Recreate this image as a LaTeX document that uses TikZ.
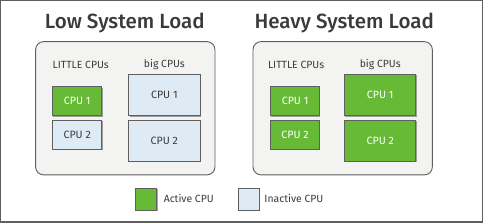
\documentclass[tikz,border=0pt]{standalone}
\usepackage{fontspec}
\setmainfont{Fira Sans}
\newfontfamily\medfont{Fira Sans Medium}
\usetikzlibrary{positioning,shadows}
\definecolor{actgreen}{HTML}{67BA35}
\definecolor{idleblue}{HTML}{DEEBF4}
\definecolor{panelgray}{HTML}{F3F3F2}
\definecolor{edgegray}{HTML}{5F5F5F}
\definecolor{txtgray}{HTML}{3A3A3A}
\tikzset{panel/.style={draw=edgegray,fill=panelgray,rounded corners=8pt,line width=0.9pt,
           minimum width=179pt,minimum height=133pt,inner sep=0pt},
         title/.style={font=\medfont\fontsize{20.5}{22}\selectfont,text=txtgray},
         grouplabel/.style={font=\fontsize{10.4}{12}\selectfont,text=txtgray},
         cpu/.style={draw=edgegray,line width=0.8pt,inner sep=0pt,
           font=\fontsize{10.6}{12}\selectfont,
           drop shadow={shadow xshift=0.8pt,shadow yshift=-0.8pt,opacity=0.35,fill=black}},
         active/.style={cpu,fill=actgreen,text=white},
         inactive/.style={cpu,fill=idleblue,text=txtgray},
         little/.style={minimum width=49pt,minimum height=29pt},
         big/.style={minimum width=71pt,minimum height=41pt},
         legendbox/.style={minimum width=21pt,minimum height=22pt}}
\begin{document}
\begin{tikzpicture}[x=1pt,y=-1pt]
  \draw[edgegray,line width=1.1pt,fill=white] (1,1) rectangle (482,222);
  % low load
  \node[title] (lowtitle) at (125,23) {Low System Load};
  \node[panel] (lowpanel) at (125.5,108.5) {};
  \node[grouplabel] (lowlittle) at (81,65) {LITTLE CPUs};
  \node[grouplabel] (lowbig) at (164.5,65) {big CPUs};
  \node[active,little] (lowl1) at (77.5,101.5) {CPU 1};
  \node[inactive,little] (lowl2) at (77.5,135) {CPU 2};
  \node[inactive,big] (lowb1) at (164.5,95.5) {CPU 1};
  \node[inactive,big] (lowb2) at (164.5,141) {CPU 2};
  % heavy load
  \node[title] (heavytitle) at (344,23) {Heavy System Load};
  \node[panel] (heavypanel) at (342.5,108.5) {};
  \node[grouplabel] (heavylittle) at (296,65) {LITTLE CPUs};
  \node[grouplabel] (heavybig) at (380,65) {big CPUs};
  \node[active,little] (heavyl1) at (295,101.5) {CPU 1};
  \node[active,little] (heavyl2) at (295,135) {CPU 2};
  \node[active,big] (heavyb1) at (380,95.5) {CPU 1};
  \node[active,big] (heavyb2) at (380,141) {CPU 2};
  % legend
  \node[cpu,fill=actgreen,legendbox] (actkey) at (146.5,199) {};
  \node[grouplabel,right=3pt of actkey] (acttext) {Active CPU};
  \node[cpu,fill=idleblue,legendbox] (idlekey) at (249,199) {};
  \node[grouplabel,right=1pt of idlekey] (idletext) {Inactive CPU};
\end{tikzpicture}
\end{document}
